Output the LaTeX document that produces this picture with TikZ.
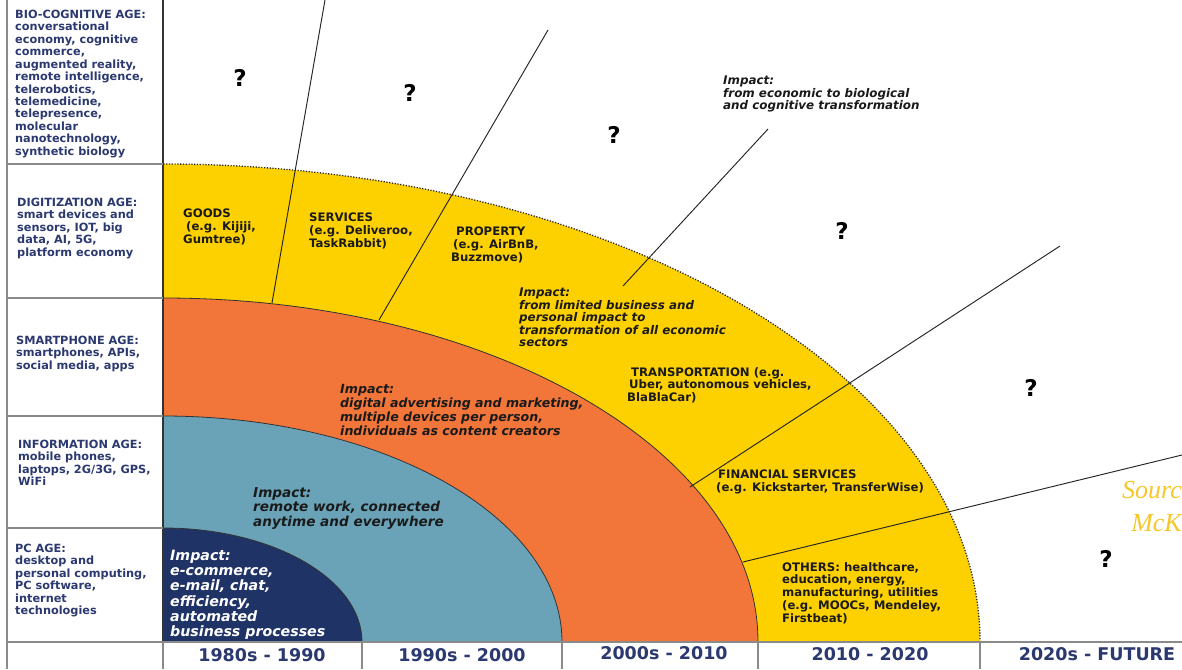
\documentclass[tikz,border=0pt]{standalone}
\usepackage{fontspec}
\setmainfont{DejaVu Sans}
\newfontfamily\srcfont{Liberation Serif}
\definecolor{agecol}{HTML}{2B3970}
\definecolor{navyc}{HTML}{1F3366}
\definecolor{bluec}{HTML}{6AA3B8}
\definecolor{orangec}{HTML}{F2763A}
\definecolor{yellowc}{HTML}{FDD000}
\definecolor{inkc}{HTML}{1A1A1A}
\definecolor{gridc}{HTML}{8A8A8A}
\definecolor{srccol}{HTML}{F7C72A}
\tikzset{
  agetxt/.style={anchor=north west,align=left,inner sep=0pt,text=agecol,font=\bfseries\fontsize{11.3}{12.45}\selectfont},
  axistxt/.style={anchor=center,inner sep=0pt,text=agecol,font=\bfseries\fontsize{17.5}{19}\selectfont},
  labtxt/.style={anchor=north west,align=left,inner sep=0pt,text=inkc,font=\bfseries\fontsize{11.7}{12.9}\selectfont},
  imptxt/.style={anchor=north west,align=left,inner sep=0pt,text=inkc,font=\bfseries\itshape\fontsize{11.9}{12.5}\selectfont},
  qmark/.style={anchor=center,inner sep=0pt,text=black,font=\bfseries\fontsize{23}{25}\selectfont},
  gridline/.style={draw=gridc,line width=1.1pt},
  arcline/.style={draw=black!80,line width=0.8pt},
  rayline/.style={draw=black!85,line width=0.95pt},
}
\begin{document}
\begin{tikzpicture}[x=1pt,y=-1pt]
\useasboundingbox (0,0) rectangle (1182,669);
\fill[white] (0,0) rectangle (1182,669);
% quarter ellipses
\coordinate (O) at (163,642);
\fill[yellowc] (O) -- (980,642) arc[start angle=0,end angle=90,x radius=817pt,y radius=478pt] -- cycle;
\fill[orangec] (O) -- (758,642) arc[start angle=0,end angle=90,x radius=595pt,y radius=344pt] -- cycle;
\fill[bluec] (O) -- (562,642) arc[start angle=0,end angle=90,x radius=399pt,y radius=226pt] -- cycle;
\fill[navyc] (O) -- (362,642) arc[start angle=0,end angle=90,x radius=199pt,y radius=114pt] -- cycle;
\draw[arcline] (362,642) arc[start angle=0,end angle=90,x radius=199pt,y radius=114pt];
\draw[arcline] (562,642) arc[start angle=0,end angle=90,x radius=399pt,y radius=226pt];
\draw[arcline] (758,642) arc[start angle=0,end angle=90,x radius=595pt,y radius=344pt];
\draw[black!85,line width=1.3pt,dash pattern=on 1.2pt off 1.6pt] (980,642) arc[start angle=0,end angle=90,x radius=817pt,y radius=478pt];
% rays
\coordinate (r1a) at (272,303); \coordinate (r1b) at (325,0);
\coordinate (r2a) at (379,320); \coordinate (r2b) at (548,30);
\coordinate (r3a) at (623,286); \coordinate (r3b) at (768,129);
\coordinate (r4a) at (690,487); \coordinate (r4b) at (1060,246);
\coordinate (r5a) at (743,562); \coordinate (r5b) at (1182,455);
\draw[rayline] (r1a) -- (r1b);
\draw[rayline] (r2a) -- (r2b);
\draw[rayline] (r3a) -- (r3b);
\draw[rayline] (r4a) -- (r4b);
\draw[rayline] (r5a) -- (r5b);
% table grid
\draw[gridline] (7,0) -- (7,669);
\draw[gridline,draw=black!80] (163,0) -- (163,642);
\draw[gridline] (163,642) -- (163,669);
\foreach \yy in {164,298,416,528} \draw[gridline] (7,\yy) -- (163,\yy);
\draw[gridline] (7,642) -- (1182,642);
\foreach \xx in {362,562,758,980} \draw[gridline] (\xx,642) -- (\xx,669);
% left column
\node[agetxt] (bio) at (15,9.8) {BIO-COGNITIVE AGE:\\conversational\\economy, cognitive\\commerce,\\augmented reality,\\remote intelligence,\\telerobotics,\\telemedicine,\\telepresence,\\molecular\\nanotechnology,\\synthetic biology};
\node[agetxt] (dig) at (17,197.8) {DIGITIZATION AGE:\\smart devices and\\sensors, IOT, big\\data, AI, 5G,\\platform economy};
\node[agetxt] (sma) at (16,335.8) {SMARTPHONE AGE:\\smartphones, APIs,\\social media, apps};
\node[agetxt] (inf) at (18,439.8) {INFORMATION AGE:\\mobile phones,\\laptops, 2G/3G, GPS,\\WiFi};
\node[agetxt] (pcage) at (15,543.8) {PC AGE:\\desktop and\\personal computing,\\PC software,\\internet\\technologies};
% axis
\node[axistxt] (ax1) at (262,655) {1980s - 1990};
\node[axistxt] (ax2) at (462,655) {1990s - 2000};
\node[axistxt] (ax3) at (664,653) {2000s - 2010};
\node[axistxt] (ax4) at (870,654) {2010 - 2020};
\node[axistxt] (ax5) at (1097,654) {2020s - FUTURE};
% impacts
\node[imptxt,text=white,font=\bfseries\itshape\fontsize{14.2}{15.2}\selectfont] (imp1) at (170,550) {Impact:\\e-commerce,\\e-mail, chat,\\efficiency,\\automated\\business processes};
\node[imptxt,font=\bfseries\itshape\fontsize{13.6}{14.5}\selectfont] (imp2) at (253,487) {Impact:\\remote work, connected\\anytime and everywhere};
\node[imptxt,font=\bfseries\itshape\fontsize{12.6}{14}\selectfont] (imp3) at (340,384) {Impact:\\digital advertising and marketing,\\multiple devices per person,\\individuals as content creators};
\node[imptxt] (imp4) at (519,288) {Impact:\\from limited business and\\personal impact to\\transformation of all economic\\sectors};
\node[imptxt,font=\bfseries\itshape\fontsize{11.9}{12.2}\selectfont] (imp5) at (723,76) {Impact:\\from economic to biological\\and cognitive transformation};
% sector labels
\node[labtxt] (goods) at (183,209) {GOODS\\\hspace*{3pt}(e.g. Kijiji,\\Gumtree)};
\node[labtxt] (serv) at (309,213) {SERVICES\\(e.g. Deliveroo,\\TaskRabbit)};
\node[labtxt] (prop) at (451,227) {\hspace*{5pt}PROPERTY\\\hspace*{2pt}(e.g. AirBnB,\\Buzzmove)};
\node[labtxt] (trans) at (627,367) {\hspace*{4pt}TRANSPORTATION (e.g.\\\hspace*{2pt}Uber, autonomous vehicles,\\BlaBlaCar)};
\node[labtxt] (fin) at (716,470) {\hspace*{2pt}FINANCIAL SERVICES\\(e.g. Kickstarter, TransferWise)};
\node[labtxt] (oth) at (782,562) {OTHERS: healthcare,\\education, energy,\\manufacturing, utilities\\(e.g. MOOCs, Mendeley,\\Firstbeat)};
% question marks
\node[qmark] (q1) at (240,78) {?};
\node[qmark] (q2) at (410,93) {?};
\node[qmark] (q3) at (614,135) {?};
\node[qmark] (q4) at (842,231) {?};
\node[qmark] (q5) at (1031,388) {?};
\node[qmark] (q6) at (1106,559) {?};
% source (cut at edge)
\node[anchor=east,inner sep=0pt,text=srccol,font=\srcfont\itshape\fontsize{26}{28}\selectfont] (src1) at (1182,490) {Sourc};
\node[anchor=east,inner sep=0pt,text=srccol,font=\srcfont\itshape\fontsize{26}{28}\selectfont] (src2) at (1182,523) {McK};
\end{tikzpicture}
\end{document}
